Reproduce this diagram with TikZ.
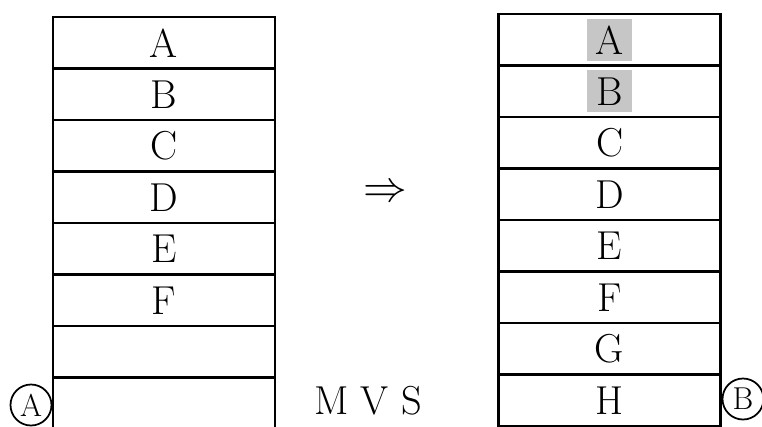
\documentclass[tikz,border=0pt]{standalone}
\usepackage{amsmath}
\usepackage{amssymb}
\usepackage{tikz}

\tikzset{
	cell/.style={draw, line width=1.4pt, rectangle, inner sep=0pt,
		minimum width=44.4mm, minimum height=10.3mm,
		font=\fontsize{23}{23}\selectfont},
	hilite/.style={fill=gray!45, inner sep=0pt,
		minimum width=9mm, minimum height=8.4mm,
		font=\fontsize{23}{23}\selectfont},
	circ/.style={draw, circle, line width=1pt, inner sep=0pt,
		minimum size=8.2mm, font=\fontsize{18}{18}\selectfont},
	big/.style={inner sep=0pt, font=\fontsize{23}{23}\selectfont}
}

\begin{document}
\begin{tikzpicture}[x=0.2mm,y=-0.2mm]

	\useasboundingbox (0,0) rectangle (762,426);
	\clip (0,0) rectangle (762,426);

	\foreach \i / \t in {1/A, 2/B, 3/C, 4/D, 5/E, 6/F, 7/{}, 8/{}}
	{
		\node[cell] (l\i) at (164,{17+51.5*(\i-0.5)}) {\t};
	};
	\foreach \i / \t in {1/A, 2/B, 3/C, 4/D, 5/E, 6/F, 7/G, 8/H}
	{
		\node[cell] (r\i) at (609.5,{14+51.5*(\i-0.5)}) {\t};
	};
	\foreach \i / \t in {1/A, 2/B}
	{
		\node[hilite] (h\i) at (r\i.center) {\t};
	};

	\node[big] (arr) at (385,193) {$\Rightarrow$};
	\node[big] (mvs) at (368,401) {M V S};

	\node[circ] (ca) at (31,405) {A};
	\node[circ] (cb) at (743,399) {B};
	\end{tikzpicture}
\end{document}
